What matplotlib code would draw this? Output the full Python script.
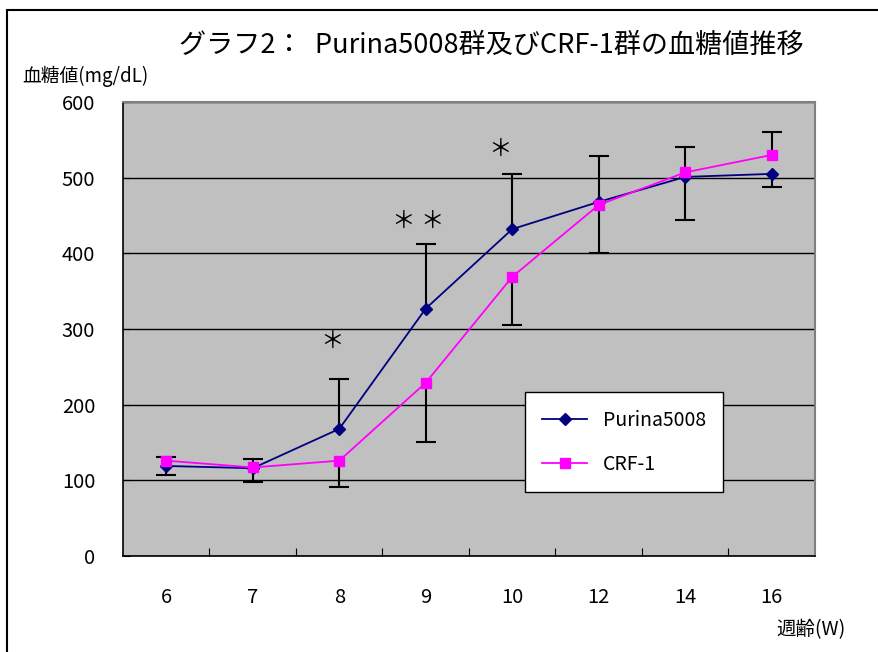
import numpy as np
import matplotlib
matplotlib.use('Agg')
import matplotlib.pyplot as plt
from matplotlib.patches import Rectangle

plt.rcParams['font.family'] = ['Noto Sans CJK JP', 'DejaVu Sans']

# data
weeks = ['6', '7', '8', '9', '10', '12', '14', '16']
purina = [119, 116, 168, 327, 432, 468, 501, 505]
crf = [126, 117, 126, 229, 369, 464, 507, 530]
# error bars as drawn (upper series shows +, lower series shows -)
purina_err_up = [0, 12, 66, 85, 73, 61, 39, 0]
purina_err_dn = [12, 0, 0, 0, 0, 0, 0, 17]
crf_err_up = [5, 0, 0, 0, 0, 0, 0, 31]
crf_err_dn = [0, 19, 35, 78, 64, 63, 63, 0]
# significance marks: (x position, y value, text)
sig_marks = [(1.92, 283, '＊'), (2.91, 442, '＊ ＊'), (3.86, 537, '＊')]

title = 'グラフ2：  Purina5008群及びCRF-1群の血糖値推移'
ylabel = '血糖値(mg/dL)'
xlabel = '週齢(W)'

fig = plt.figure(figsize=(8.79, 6.52), dpi=100)
fig.patch.set_facecolor('white')
# outer frame
fig.add_artist(Rectangle((7/879, -0.1), 1.2, 1 - 10/652 + 0.1,
                         transform=fig.transFigure, fill=False,
                         edgecolor='black', linewidth=1.5))

ax = fig.add_axes([123/879, 1 - 556/652, 692/879, 454/652])
ax.set_facecolor('#C0C0C0')
x = np.arange(len(weeks))

def draw_err(vals, err, sign):
    vals = np.array(vals, dtype=float)
    err = np.array(err, dtype=float)
    m = err > 0
    ends = vals[m] + sign * err[m]
    ax.vlines(x[m], vals[m], ends, color='black', linewidth=1.5, zorder=3)
    ax.plot(x[m], ends, linestyle='none', marker='_', markersize=15,
            markeredgewidth=1.5, color='black', zorder=3)

draw_err(purina, purina_err_up, 1)
draw_err(purina, purina_err_dn, -1)
draw_err(crf, crf_err_up, 1)
draw_err(crf, crf_err_dn, -1)

ax.plot(x, purina, '-D', color='#000080', markersize=6, linewidth=1.3,
        label='Purina5008', zorder=4)
ax.plot(x, crf, '-s', color='#FF00FF', markersize=7, linewidth=1.3,
        label='CRF-1', zorder=5)

for xs, ys, t in sig_marks:
    ax.text(xs, ys, t, ha='center', va='center', fontsize=17, color='black')

ax.set_xlim(-0.5, len(weeks) - 0.5)
ax.set_ylim(0, 600)
ax.set_yticks(range(0, 601, 100))
ax.yaxis.grid(True, color='black', linewidth=1)
ax.set_axisbelow(True)
ax.tick_params(axis='y', direction='in', length=5, pad=20, labelsize=14.5)

ax.set_xticks(np.arange(0.5, len(weeks) - 0.5, 1))
ax.set_xticklabels([])
ax.set_xticks(x, minor=True)
ax.set_xticklabels(weeks, minor=True)
ax.tick_params(axis='x', which='major', direction='in', length=6)
ax.tick_params(axis='x', which='minor', length=0, pad=22, labelsize=14.5)

for s in ['top', 'right']:
    ax.spines[s].set_color('#808080')
    ax.spines[s].set_linewidth(1.5)
for s in ['left', 'bottom']:
    ax.spines[s].set_color('black')
    ax.spines[s].set_linewidth(1.2)

leg = ax.legend(loc='upper left', bbox_to_anchor=((525 - 123) / 692, (556 - 392) / 454),
                frameon=True, fancybox=False, fontsize=14, handlelength=2.3,
                borderpad=0.9, labelspacing=1.2, borderaxespad=0)
leg.get_frame().set_edgecolor('black')
leg.get_frame().set_linewidth(1)
leg.get_frame().set_alpha(1)

fig.text(491/879, 1 - 45/652, title, ha='center', va='center', fontsize=19.5)
fig.text(22/879, 1 - 76/652, ylabel, ha='left', va='center', fontsize=13.5)
fig.text(846/879, 1 - 630/652, xlabel, ha='right', va='center', fontsize=14)

fig.savefig('out.png', dpi=100)
